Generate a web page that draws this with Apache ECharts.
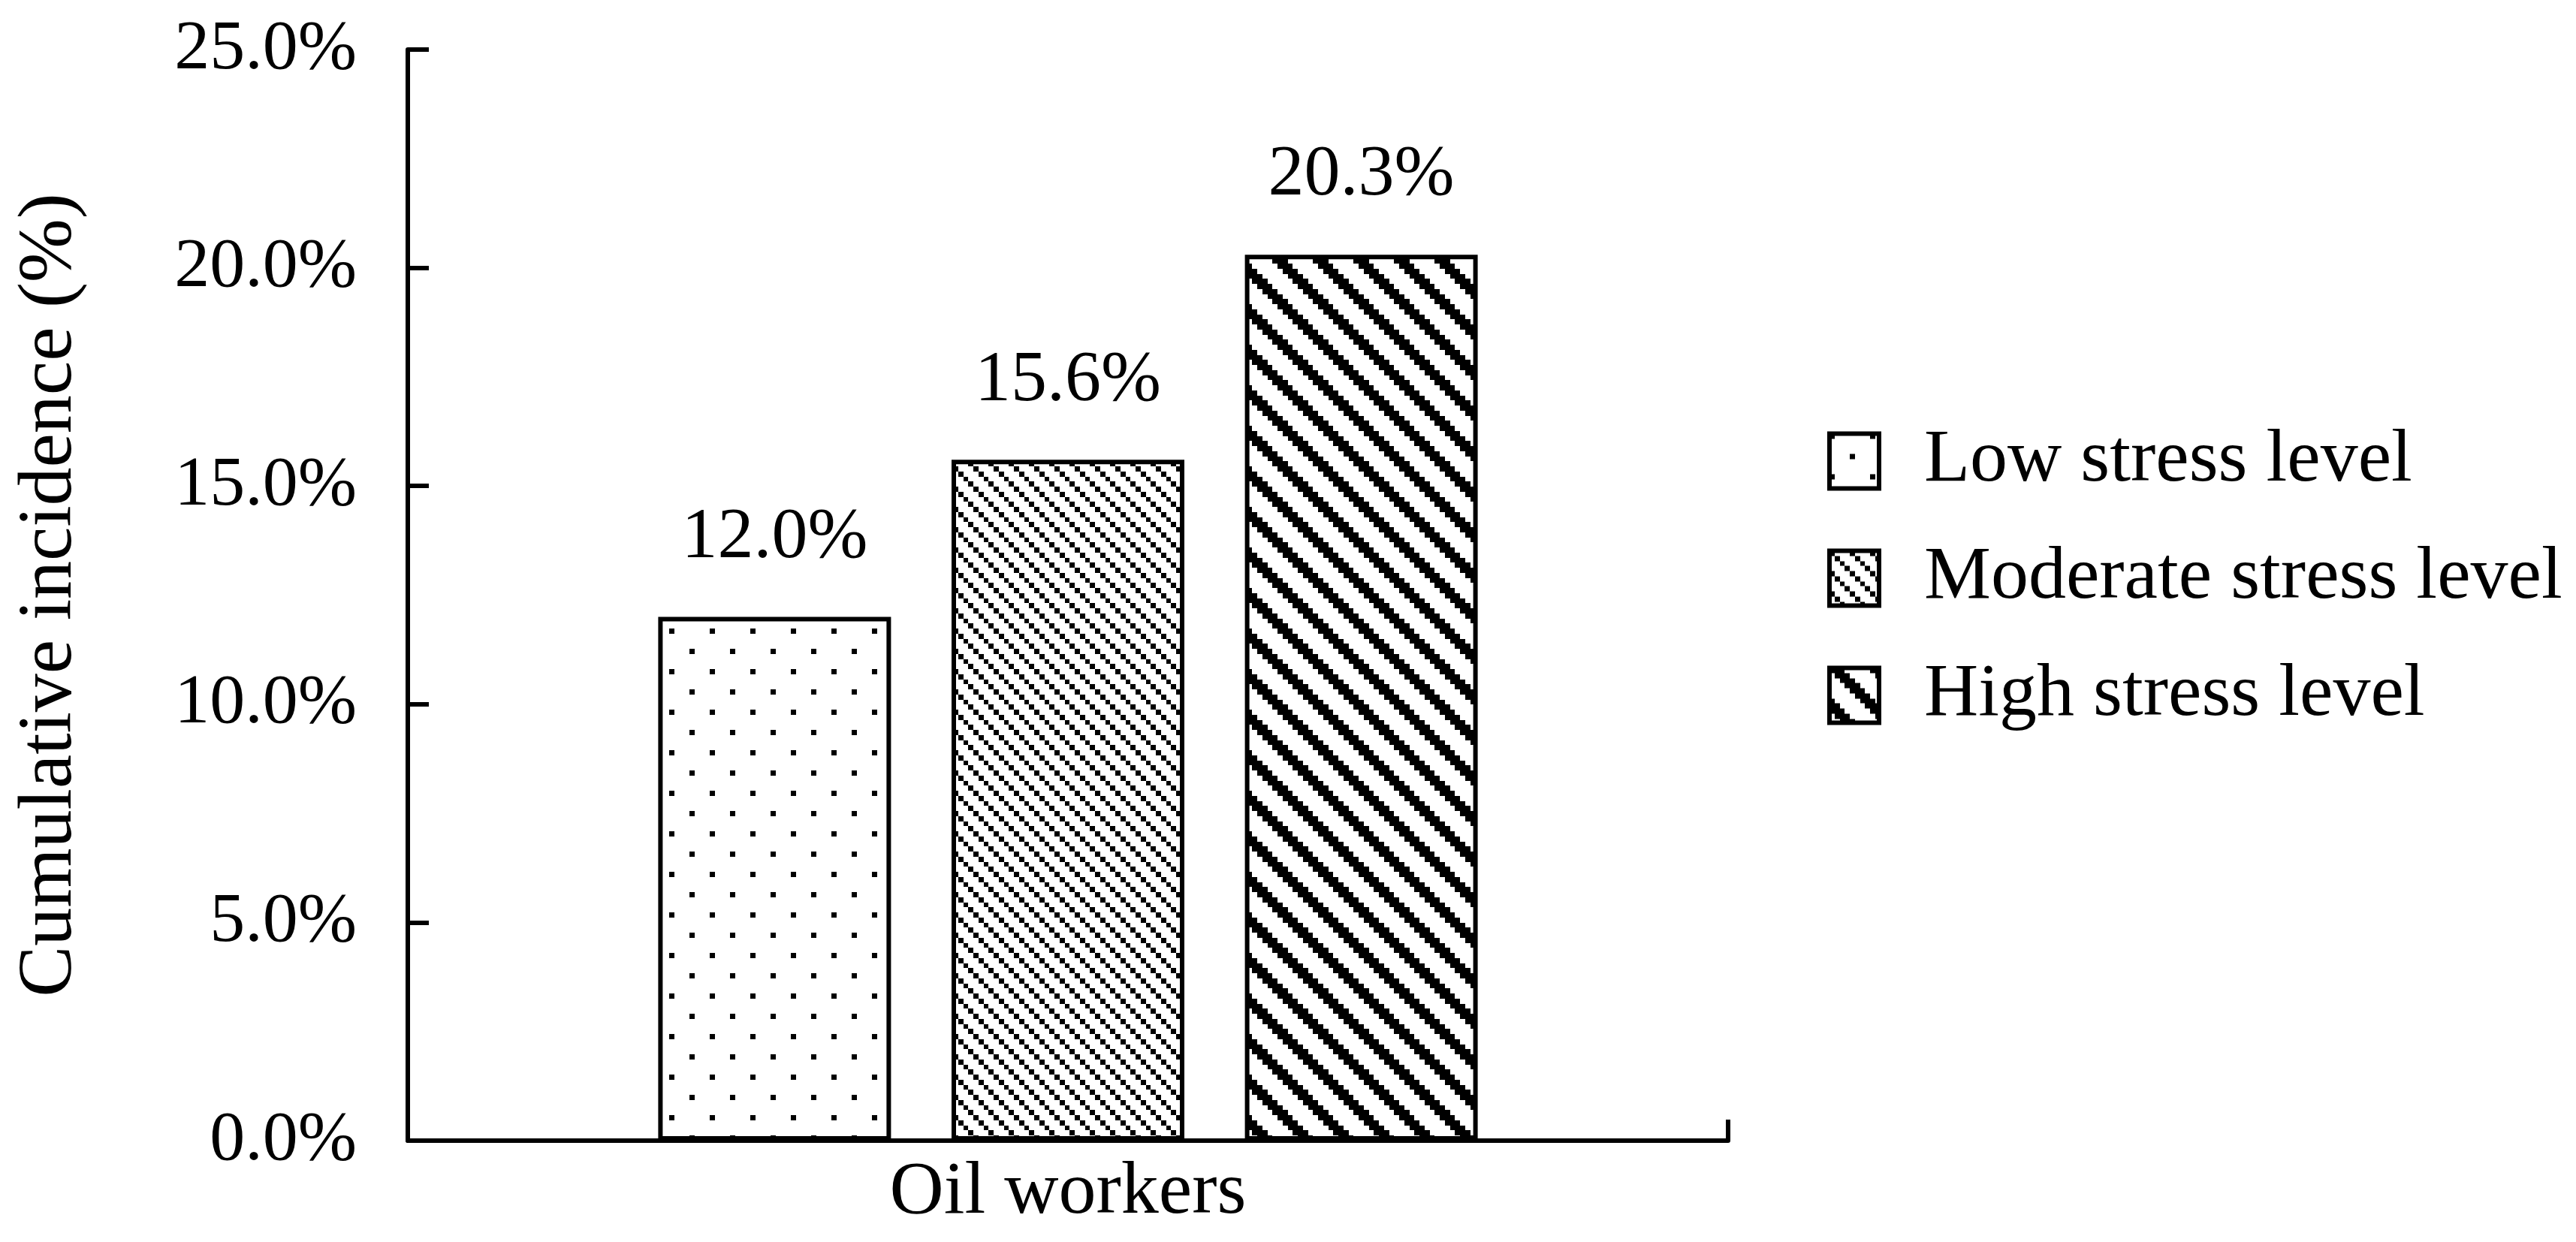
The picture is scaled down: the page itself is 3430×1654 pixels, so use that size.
<!DOCTYPE html>
<html>
<head>
<meta charset="utf-8">
<script src="https://cdn.jsdelivr.net/npm/echarts@6/dist/echarts.min.js"></script>
<style>
html,body{margin:0;padding:0;background:#fff;}
#chart{width:3430px;height:1654px;}
</style>
</head>
<body>
<div id="chart"></div>
<script>
// ---- data ----
const categories = ['Oil workers'];
const seriesNames = ['Low stress level', 'Moderate stress level', 'High stress level'];
const lowValues = [12.0];
const moderateValues = [15.6];
const highValues = [20.3];
const yTicks = [0, 5, 10, 15, 20, 25];

// ---- patterns (pixelated look) ----
function makeTile(cells, n, u) {
  const size = Math.round(n * u);
  const c = document.createElement('canvas');
  c.width = size; c.height = size;
  const ctx = c.getContext('2d');
  ctx.fillStyle = '#fff';
  ctx.fillRect(0, 0, size, size);
  ctx.fillStyle = '#000';
  const p = i => Math.round(i * u);
  cells.forEach(([cx, cy]) => {
    ctx.fillRect(p(cx), p(cy), p(cx + 1) - p(cx), p(cy + 1) - p(cy));
  });
  return c;
}
const U = 6.75;
const lowTile = makeTile([[0, 0], [4, 4]], 8, U);
const modTile = makeTile([[0, 0], [1, 1], [2, 2], [3, 3]], 4, U);
const highCells = [];
for (let r = 0; r < 8; r++) for (let k = 0; k < 3; k++) highCells.push([(r + k) % 8, r]);
const highTile = makeTile(highCells, 8, U);

const FONT = 'Liberation Serif';
const chart = echarts.init(document.getElementById('chart'));

function barSeries(name, data, tile) {
  return {
    name: name,
    type: 'bar',
    data: data,
    barWidth: 310,
    barGap: '26%',
    itemStyle: {
      color: { image: tile, repeat: 'repeat' },
      borderColor: '#000',
      borderWidth: 6
    },
    label: {
      show: true,
      position: 'top',
      distance: 57,
      formatter: p => p.value.toFixed(1) + '%',
      fontFamily: FONT,
      fontSize: 96,
      lineHeight: 96,
      color: '#000'
    },
    emphasis: { disabled: true }
  };
}

chart.setOption({
  animation: false,
  backgroundColor: '#fff',
  grid: { left: 543, top: 66, right: 1129, bottom: 135, containLabel: false },
  legend: {
    orient: 'vertical',
    left: 2428,
    top: 559,
    itemWidth: 66,
    itemHeight: 73,
    itemGap: 56,
    icon: 'rect',
    data: seriesNames,
    itemStyle: { borderColor: '#000', borderWidth: 6 },
    textStyle: {
      fontFamily: FONT,
      fontSize: 100,
      color: '#000',
      padding: [0, 0, 0, 55]
    }
  },
  xAxis: {
    type: 'category',
    data: categories,
    boundaryGap: true,
    axisLine: { show: true, lineStyle: { color: '#000', width: 6 } },
    axisTick: { show: true, inside: true, length: 28, lineStyle: { color: '#000', width: 6 } },
    axisLabel: { fontFamily: FONT, fontSize: 100, color: '#000', margin: 20 },
    splitLine: { show: false }
  },
  yAxis: {
    type: 'value',
    min: yTicks[0],
    max: yTicks[yTicks.length - 1],
    interval: yTicks[1] - yTicks[0],
    name: 'Cumulative incidence (%)',
    nameLocation: 'middle',
    nameRotate: 90,
    nameGap: 425,
    nameTextStyle: { fontFamily: FONT, fontSize: 102, color: '#000' },
    axisLine: { show: true, lineStyle: { color: '#000', width: 6 } },
    axisTick: { show: true, inside: true, length: 28, lineStyle: { color: '#000', width: 6 } },
    axisLabel: {
      fontFamily: FONT, fontSize: 94, color: '#000', margin: 68,
      formatter: v => v.toFixed(1) + '%'
    },
    splitLine: { show: false }
  },
  series: [
    barSeries(seriesNames[0], lowValues, lowTile),
    barSeries(seriesNames[1], moderateValues, modTile),
    barSeries(seriesNames[2], highValues, highTile)
  ]
});
</script>
</body>
</html>
